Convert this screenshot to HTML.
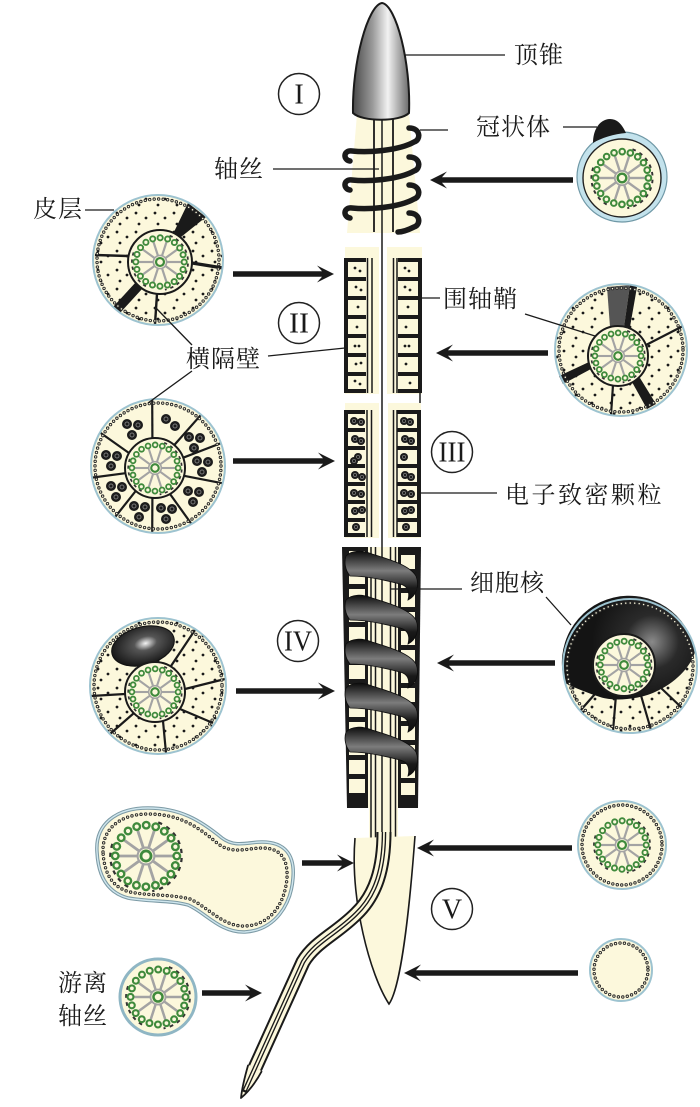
<!DOCTYPE html>
<html><head><meta charset="utf-8">
<style>
html,body{margin:0;padding:0;background:#fff;}
svg{display:block;}
text{font-family:"Liberation Serif","Noto Serif CJK SC",serif;fill:#1a1a1a;}
</style></head><body>
<svg width="700" height="1107" viewBox="0 0 700 1107" xmlns="http://www.w3.org/2000/svg" xmlns:xlink="http://www.w3.org/1999/xlink">
<defs>
 <pattern id="dots" width="19" height="19" patternUnits="userSpaceOnUse">
  <circle cx="3" cy="4" r="1.4" fill="#1a1a1a"/>
  <circle cx="13" cy="9" r="1.4" fill="#1a1a1a"/>
  <circle cx="6" cy="15" r="1.4" fill="#1a1a1a"/>
 </pattern>
 <linearGradient id="cone" x1="0" y1="0" x2="1" y2="0">
  <stop offset="0" stop-color="#4a4a4a"/>
  <stop offset="0.35" stop-color="#9a9a9a"/>
  <stop offset="0.62" stop-color="#f2f2f2"/>
  <stop offset="1" stop-color="#6a6a6a"/>
 </linearGradient>
 <linearGradient id="band" x1="0" y1="0" x2="0" y2="1">
  <stop offset="0" stop-color="#0d0d0d"/>
  <stop offset="0.4" stop-color="#7c7c7c"/>
  <stop offset="0.75" stop-color="#1a1a1a"/>
  <stop offset="1" stop-color="#0d0d0d"/>
 </linearGradient>
 <radialGradient id="nuc1" cx="0.55" cy="0.45" r="0.6">
  <stop offset="0" stop-color="#f4f4f4"/>
  <stop offset="0.3" stop-color="#555"/>
  <stop offset="1" stop-color="#111"/>
 </radialGradient>
 <radialGradient id="nuc2" gradientUnits="userSpaceOnUse" cx="652" cy="642" r="60">
  <stop offset="0" stop-color="#8a8a8a"/>
  <stop offset="0.45" stop-color="#2a2a2a"/>
  <stop offset="1" stop-color="#141414"/>
 </radialGradient>
 <g id="ax">
  <path d="M8.72,-23.96 A25.5,25.5 0 0 1 4.43,25.11 M-12.75,22.08 A25.5,25.5 0 0 1 -23.96,-8.72" fill="none" stroke="#333" stroke-width="1.6" stroke-dasharray="3 3.5"/>
  <g stroke="#a3a3a3" stroke-width="2">
   <line x1="6" y1="0" x2="19" y2="0"/>
   <line x1="4.85" y1="3.53" x2="15.37" y2="11.17"/>
   <line x1="1.85" y1="5.71" x2="5.87" y2="18.07"/>
   <line x1="-1.85" y1="5.71" x2="-5.87" y2="18.07"/>
   <line x1="-4.85" y1="3.53" x2="-15.37" y2="11.17"/>
   <line x1="-6" y1="0" x2="-19" y2="0"/>
   <line x1="-4.85" y1="-3.53" x2="-15.37" y2="-11.17"/>
   <line x1="-1.85" y1="-5.71" x2="-5.87" y2="-18.07"/>
   <line x1="1.85" y1="-5.71" x2="5.87" y2="-18.07"/>
   <line x1="4.85" y1="-3.53" x2="15.37" y2="-11.17"/>
  </g>
  <circle r="6" fill="none" stroke="#a3a3a3" stroke-width="1.5"/>
  <circle r="3.6" fill="#fcf8dc" stroke="#3f8a3c" stroke-width="2"/>
  <circle r="22" fill="none" stroke="#3f8a3c" stroke-width="6.4" stroke-linecap="round" stroke-dasharray="0 6.911"/>
  <circle r="22" fill="none" stroke="#fcf8dc" stroke-width="3" stroke-linecap="round" stroke-dasharray="0 6.911"/>
 </g>
 <g id="gr"><circle r="5" fill="#1c1c1c"/><circle r="2" fill="none" stroke="#777" stroke-width="1"/></g>
</defs>

<rect width="700" height="1107" fill="#fff"/>

<!-- Section I -->
<polygon points="357,114 409,114 420,233 347,233" fill="#fcf8dc"/>
<line x1="382" y1="115" x2="382" y2="547" stroke="#1a1a1a" stroke-width="1.5"/>
<line x1="374" y1="115" x2="374" y2="232" stroke="#1a1a1a" stroke-width="1.8"/>
<line x1="393" y1="115" x2="393" y2="232" stroke="#1a1a1a" stroke-width="1.8"/>
<g fill="none" stroke="#1a1a1a" stroke-width="5.5" stroke-linecap="round">
 <path d="M409,128 C421,128 421,140 414,142 C400,150 370,153 352,151 C343,150 343,160 350,161"/>
 <path d="M409,157 C421,157 421,169 414,171 C400,179 370,182 352,180 C343,179 343,189 350,190"/>
 <path d="M409,185 C421,185 421,197 414,199 C400,207 370,210 352,208 C343,207 343,217 350,218"/>
 <path d="M409,213 C421,213 421,225 414,227 C408,230 402,232 398,232"/>
</g>
<path d="M353,113 C352,62 368,5 382,3 C396,5 411,62 409,113 C400,122 362,122 353,113 Z" fill="url(#cone)" stroke="#1a1a1a" stroke-width="2"/>

<!-- Section II -->
<rect x="345" y="247" width="34" height="147" fill="#fcf8dc"/>
<rect x="387" y="247" width="35" height="147" fill="#fcf8dc"/>
<g fill="#1a1a1a">
 <rect x="344" y="258" width="4" height="135"/>
 <rect x="344" y="258" width="22" height="4"/><rect x="344" y="277" width="22" height="4"/>
 <rect x="344" y="296" width="22" height="4"/><rect x="344" y="315" width="22" height="4"/>
 <rect x="344" y="334" width="22" height="4"/><rect x="344" y="353" width="22" height="4"/>
 <rect x="344" y="372" width="22" height="4"/><rect x="344" y="389" width="22" height="4"/>
 <rect x="418" y="258" width="4" height="135"/>
 <rect x="398" y="258" width="24" height="4"/><rect x="398" y="277" width="24" height="4"/>
 <rect x="398" y="296" width="24" height="4"/><rect x="398" y="315" width="24" height="4"/>
 <rect x="398" y="334" width="24" height="4"/><rect x="398" y="353" width="24" height="4"/>
 <rect x="398" y="372" width="24" height="4"/><rect x="398" y="389" width="24" height="4"/>
 <circle cx="355" cy="268" r="1.4"/><circle cx="360" cy="271" r="1.4"/>
 <circle cx="356" cy="287" r="1.4"/><circle cx="361" cy="290" r="1.4"/>
 <circle cx="358" cy="307" r="1.4"/><circle cx="357" cy="327" r="1.4"/>
 <circle cx="355" cy="346" r="1.4"/><circle cx="359" cy="346" r="1.4"/>
 <circle cx="356" cy="364" r="1.4"/><circle cx="361" cy="363" r="1.4"/>
 <circle cx="355" cy="381" r="1.4"/><circle cx="360" cy="384" r="1.4"/>
 <circle cx="405" cy="268" r="1.4"/><circle cx="409" cy="271" r="1.4"/>
 <circle cx="405" cy="287" r="1.4"/><circle cx="410" cy="290" r="1.4"/>
 <circle cx="408" cy="307" r="1.4"/><circle cx="406" cy="327" r="1.4"/>
 <circle cx="405" cy="346" r="1.4"/><circle cx="409" cy="346" r="1.4"/>
 <circle cx="406" cy="364" r="1.4"/><circle cx="410" cy="383" r="1.4"/>
</g>
<g stroke="#1a1a1a" stroke-width="1.5">
 <line x1="367.5" y1="258" x2="367.5" y2="393"/><line x1="372" y1="258" x2="372" y2="393"/>
 <line x1="393.5" y1="258" x2="393.5" y2="393"/><line x1="397" y1="258" x2="397" y2="393"/>
 <line x1="420" y1="393" x2="420" y2="410"/>
</g>

<!-- Section III -->
<rect x="345" y="403" width="34" height="135" fill="#fcf8dc"/>
<rect x="388" y="403" width="33" height="135" fill="#fcf8dc"/>
<g fill="#1a1a1a">
 <rect x="344" y="410" width="4" height="127"/>
 <rect x="344" y="410" width="21" height="4"/><rect x="344" y="428" width="21" height="4"/>
 <rect x="344" y="446" width="21" height="4"/><rect x="344" y="464" width="21" height="4"/>
 <rect x="344" y="482" width="21" height="4"/><rect x="344" y="500" width="21" height="4"/>
 <rect x="344" y="518" width="21" height="4"/><rect x="344" y="533" width="21" height="4"/>
 <rect x="417" y="410" width="4" height="127"/>
 <rect x="397" y="410" width="24" height="4"/><rect x="397" y="428" width="24" height="4"/>
 <rect x="397" y="446" width="24" height="4"/><rect x="397" y="464" width="24" height="4"/>
 <rect x="397" y="482" width="24" height="4"/><rect x="397" y="500" width="24" height="4"/>
 <rect x="397" y="518" width="24" height="4"/><rect x="397" y="533" width="24" height="4"/>
</g>
<g stroke="#1a1a1a" stroke-width="1.5">
 <line x1="367" y1="410" x2="367" y2="537"/><line x1="371.5" y1="410" x2="371.5" y2="537"/>
 <line x1="393.5" y1="410" x2="393.5" y2="537"/><line x1="397" y1="410" x2="397" y2="537"/>
</g>
<g>
 <use xlink:href="#gr" transform="translate(354,421) scale(0.8)"/><use xlink:href="#gr" transform="translate(361,422) scale(0.8)"/>
 <use xlink:href="#gr" transform="translate(355,439) scale(0.8)"/><use xlink:href="#gr" transform="translate(361,441) scale(0.8)"/>
 <use xlink:href="#gr" transform="translate(358,457) scale(0.8)"/><use xlink:href="#gr" transform="translate(354,461) scale(0.8)"/>
 <use xlink:href="#gr" transform="translate(355,475) scale(0.8)"/><use xlink:href="#gr" transform="translate(362,477) scale(0.8)"/>
 <use xlink:href="#gr" transform="translate(354,493) scale(0.8)"/><use xlink:href="#gr" transform="translate(361,494) scale(0.8)"/>
 <use xlink:href="#gr" transform="translate(355,511) scale(0.8)"/><use xlink:href="#gr" transform="translate(362,510) scale(0.8)"/>
 <use xlink:href="#gr" transform="translate(356,527) scale(0.8)"/>
 <use xlink:href="#gr" transform="translate(404,421) scale(0.8)"/><use xlink:href="#gr" transform="translate(410,422) scale(0.8)"/>
 <use xlink:href="#gr" transform="translate(405,439) scale(0.8)"/><use xlink:href="#gr" transform="translate(411,441) scale(0.8)"/>
 <use xlink:href="#gr" transform="translate(404,457) scale(0.8)"/>
 <use xlink:href="#gr" transform="translate(405,475) scale(0.8)"/><use xlink:href="#gr" transform="translate(411,477) scale(0.8)"/>
 <use xlink:href="#gr" transform="translate(404,493) scale(0.8)"/><use xlink:href="#gr" transform="translate(411,494) scale(0.8)"/>
 <use xlink:href="#gr" transform="translate(405,511) scale(0.8)"/><use xlink:href="#gr" transform="translate(411,510) scale(0.8)"/>
 <use xlink:href="#gr" transform="translate(406,527) scale(0.8)"/>
</g>

<!-- Section IV -->
<polygon points="342,547 421,547 418,808 347,808" fill="#1a1a1a"/>
<rect x="368" y="547" width="30" height="261" fill="#fcf8dc"/>
<g fill="#fcf8dc">
 <rect x="349" y="551" width="16" height="14"/><rect x="349" y="570" width="16" height="14"/>
 <rect x="349" y="589" width="16" height="14"/><rect x="349" y="608" width="16" height="14"/>
 <rect x="349" y="627" width="16" height="14"/><rect x="349" y="646" width="16" height="14"/>
 <rect x="349" y="665" width="16" height="14"/><rect x="349" y="684" width="16" height="14"/>
 <rect x="349" y="703" width="16" height="14"/><rect x="349" y="722" width="16" height="14"/>
 <rect x="349" y="741" width="16" height="14"/><rect x="349" y="760" width="16" height="14"/>
 <rect x="349" y="779" width="16" height="14"/>
 <rect x="401" y="555" width="14" height="14"/><rect x="401" y="574" width="14" height="14"/>
 <rect x="401" y="593" width="14" height="14"/><rect x="401" y="612" width="14" height="14"/>
 <rect x="401" y="631" width="14" height="14"/><rect x="401" y="650" width="14" height="14"/>
 <rect x="401" y="669" width="14" height="14"/><rect x="401" y="688" width="14" height="14"/>
 <rect x="401" y="707" width="14" height="14"/><rect x="401" y="726" width="14" height="14"/>
 <rect x="401" y="745" width="14" height="14"/><rect x="401" y="764" width="14" height="14"/>
 <rect x="401" y="783" width="14" height="12"/>
 <rect x="369" y="808" width="29" height="34"/>
</g>
<g stroke="#1a1a1a" stroke-width="1.5">
 <line x1="371" y1="547" x2="371" y2="842"/><line x1="375.5" y1="547" x2="375.5" y2="842"/>
 <line x1="382" y1="547" x2="382" y2="842"/>
 <line x1="390.5" y1="547" x2="390.5" y2="842"/><line x1="395.5" y1="547" x2="395.5" y2="842"/>
</g>
<g fill="url(#band)" stroke="#0d0d0d" stroke-width="0.8">
 <path d="M346,556 C352,550 362,550 372,554 C392,560 410,566 416,576 C420,586 416,596 408,600 C410,592 408,586 400,584 C385,580 365,576 350,576 C345,570 344,562 346,556 Z"/>
 <path d="M346,600 C352,594 362,594 372,598 C392,604 410,610 416,620 C420,630 416,640 408,644 C410,636 408,630 400,628 C385,624 365,620 350,620 C345,614 344,606 346,600 Z"/>
 <path d="M346,644 C352,638 362,638 372,642 C392,648 410,654 416,664 C420,674 416,684 408,688 C410,680 408,674 400,672 C385,668 365,664 350,664 C345,658 344,650 346,644 Z"/>
 <path d="M346,688 C352,682 362,682 372,686 C392,692 410,698 416,708 C420,718 416,728 408,732 C410,724 408,718 400,716 C385,712 365,708 350,708 C345,702 344,694 346,688 Z"/>
 <path d="M346,732 C352,726 362,726 372,730 C392,736 410,742 416,752 C420,762 416,772 408,776 C410,768 408,762 400,760 C385,756 365,752 350,752 C345,746 344,738 346,732 Z"/>
</g>

<!-- Section V cone & free tail -->
<path d="M355,838 C350,900 370,975 389,1004 C399,990 408,930 415,836 Z" fill="#fcf8dc"/>
<path d="M355,838 C350,900 370,975 389,1004 C399,990 408,930 415,836" fill="none" stroke="#1a1a1a" stroke-width="1.6"/>
<g fill="none" stroke-linejoin="round">
 <path d="M384,832 C384,868 376,895 356,914 C336,934 315,942 303,962 L255,1068" stroke="#1a1a1a" stroke-width="15"/>
 <path d="M384,832 C384,868 376,895 356,914 C336,934 315,942 303,962 L255,1068" stroke="#fcf8dc" stroke-width="11"/>
</g>
<!-- tapered tip -->
<path d="M248.2,1064.9 L261.8,1071.1 C256,1082 248,1092 241,1098 C242,1088 245,1076 248.2,1064.9 Z" fill="#fcf8dc"/>
<path d="M248.2,1064.9 C245,1076 242,1088 241,1098 C248,1092 256,1082 261.8,1071.1" fill="none" stroke="#1a1a1a" stroke-width="1.8" stroke-linejoin="round"/>
<g fill="none">
 <path d="M384,832 C384,868 376,895 356,914 C336,934 315,942 303,962 L255,1068 L244,1092" stroke="#1a1a1a" stroke-width="4.5"/>
 <path d="M384,832 C384,868 376,895 356,914 C336,934 315,942 303,962 L255,1068 L245,1090" stroke="#fcf8dc" stroke-width="1.8"/>
</g>

<!-- Circle 1 (皮层) -->
<circle cx="158" cy="260" r="65" fill="#fcf8dc"/>
<circle cx="158" cy="260" r="65" fill="url(#dots)"/>
<g fill="#1a1a1a">
 <polygon points="173,234 181,237 206,217 188,203"/>
 <polygon points="136,282 142,289 120,313 113,307"/>
</g>
<g stroke="#1a1a1a">
 <line x1="128" y1="256" x2="95" y2="255" stroke-width="2.4"/>
 <line x1="192" y1="263" x2="223" y2="268" stroke-width="3.4"/>
 <line x1="157" y1="294" x2="155" y2="324" stroke-width="2.4"/>
</g>
<circle cx="158" cy="260" r="61" fill="none" stroke="#2a2a2a" stroke-width="3.4" stroke-linecap="round" stroke-dasharray="0 4.5"/>
<circle cx="158" cy="260" r="61" fill="none" stroke="#fcf8dc" stroke-width="1.5" stroke-linecap="round" stroke-dasharray="0 4.5"/>
<circle cx="158" cy="260" r="65" fill="none" stroke="#9dc3d0" stroke-width="2"/>
<circle cx="160" cy="262" r="32" fill="#fcf8dc" stroke="#1a1a1a" stroke-width="2"/>
<use xlink:href="#ax" transform="translate(160,262) scale(1.1)"/>

<!-- Circle III-left (granules) -->
<circle cx="158" cy="466" r="67" fill="#fcf8dc"/>
<g stroke="#1a1a1a" stroke-width="2.2">
 <line x1="152.4" y1="438.1" x2="152.2" y2="399.2"/>
 <line x1="174.3" y1="445" x2="201.1" y2="414.7"/>
 <line x1="183.2" y1="457.7" x2="221" y2="443.1"/>
 <line x1="184" y1="475.8" x2="222.7" y2="483.3"/>
 <line x1="170" y1="494" x2="191.5" y2="524"/>
 <line x1="152.4" y1="497.9" x2="152.2" y2="532.7"/>
 <line x1="135.7" y1="491" x2="114.9" y2="517.3"/>
 <line x1="125.5" y1="473.2" x2="92" y2="477.6"/>
 <line x1="129" y1="453" x2="100" y2="432.5"/>
</g>
<g>
 <use xlink:href="#gr" x="127" y="424"/><use xlink:href="#gr" x="138" y="425"/><use xlink:href="#gr" x="132" y="435"/>
 <use xlink:href="#gr" x="166" y="419"/><use xlink:href="#gr" x="175" y="426"/>
 <use xlink:href="#gr" x="189" y="437"/><use xlink:href="#gr" x="200" y="438"/><use xlink:href="#gr" x="194" y="448"/>
 <use xlink:href="#gr" x="197" y="461"/><use xlink:href="#gr" x="208" y="462"/><use xlink:href="#gr" x="202" y="472"/>
 <use xlink:href="#gr" x="188" y="491"/><use xlink:href="#gr" x="199" y="492"/><use xlink:href="#gr" x="193" y="502"/>
 <use xlink:href="#gr" x="161" y="508"/><use xlink:href="#gr" x="172" y="509"/><use xlink:href="#gr" x="166" y="519"/>
 <use xlink:href="#gr" x="134" y="506"/><use xlink:href="#gr" x="145" y="507"/><use xlink:href="#gr" x="139" y="517"/>
 <use xlink:href="#gr" x="111" y="486"/><use xlink:href="#gr" x="122" y="487"/><use xlink:href="#gr" x="116" y="497"/>
 <use xlink:href="#gr" x="106" y="455"/><use xlink:href="#gr" x="117" y="456"/><use xlink:href="#gr" x="111" y="466"/>
</g>
<circle cx="158" cy="466" r="63" fill="none" stroke="#2a2a2a" stroke-width="3.4" stroke-linecap="round" stroke-dasharray="0 4.5"/>
<circle cx="158" cy="466" r="63" fill="none" stroke="#fcf8dc" stroke-width="1.5" stroke-linecap="round" stroke-dasharray="0 4.5"/>
<circle cx="158" cy="466" r="67" fill="none" stroke="#9dc3d0" stroke-width="2"/>
<circle cx="155" cy="468" r="30" fill="#fcf8dc" stroke="#1a1a1a" stroke-width="2"/>
<use xlink:href="#ax" transform="translate(155,468) scale(1.05)"/>

<!-- Circle IV-left (nucleus) -->
<circle cx="158" cy="686" r="68" fill="#fcf8dc"/>
<circle cx="158" cy="686" r="68" fill="url(#dots)"/>
<g stroke="#1a1a1a" stroke-width="2.2">
 <line x1="171" y1="666" x2="195" y2="630"/>
 <line x1="185" y1="689" x2="225" y2="679"/>
 <line x1="180" y1="709" x2="213" y2="723"/>
 <line x1="163" y1="721" x2="166" y2="753"/>
 <line x1="134" y1="713" x2="110" y2="734"/>
 <line x1="125" y1="694" x2="91" y2="696"/>
</g>
<circle cx="158" cy="686" r="64" fill="none" stroke="#2a2a2a" stroke-width="3.4" stroke-linecap="round" stroke-dasharray="0 4.5"/>
<circle cx="158" cy="686" r="64" fill="none" stroke="#fcf8dc" stroke-width="1.5" stroke-linecap="round" stroke-dasharray="0 4.5"/>
<circle cx="158" cy="686" r="68" fill="none" stroke="#9dc3d0" stroke-width="2"/>
<ellipse cx="143" cy="646" rx="32" ry="19" transform="rotate(-15 143 646)" fill="url(#nuc1)" stroke="#111" stroke-width="1"/>
<circle cx="155" cy="692" r="30" fill="#fcf8dc" stroke="#1a1a1a" stroke-width="2"/>
<use xlink:href="#ax" transform="translate(155,692) scale(1.05)"/>

<!-- Circle R1 (冠状体) -->
<circle cx="622" cy="177" r="45" fill="#c3e2ec" stroke="#6f98a6" stroke-width="1.2"/>
<circle cx="622" cy="178" r="39" fill="#fcf8dc" stroke="#222" stroke-width="1.4"/>
<use xlink:href="#ax" transform="translate(622,178) scale(1.2)"/>
<path d="M593,143 C593,128 601,119 610,119 C619,119 623,127 626,133 C614,134 601,138 593,143 Z" fill="#1a1a1a"/>

<!-- Circle R2 (围轴鞘) -->
<circle cx="621" cy="350" r="66" fill="#fcf8dc"/>
<circle cx="621" cy="350" r="66" fill="url(#dots)"/>
<polygon points="610,327 624,327 630,285 607,287" fill="#555"/>
<g fill="#1a1a1a">
 <polygon points="624,327 630,327 637,287 630,285"/>
 <polygon points="589,362 591,369 563,384 559,376"/>
 <polygon points="632,382 640,378 656,404 647,409"/>
</g>
<g stroke="#1a1a1a" stroke-width="2.2">
 <line x1="646" y1="345" x2="683" y2="326"/>
 <line x1="613" y1="385" x2="611" y2="415"/>
</g>
<circle cx="621" cy="350" r="62" fill="none" stroke="#2a2a2a" stroke-width="3.4" stroke-linecap="round" stroke-dasharray="0 4.5"/>
<circle cx="621" cy="350" r="62" fill="none" stroke="#fcf8dc" stroke-width="1.5" stroke-linecap="round" stroke-dasharray="0 4.5"/>
<circle cx="621" cy="350" r="66" fill="none" stroke="#9dc3d0" stroke-width="2"/>
<circle cx="618" cy="356" r="30" fill="#fcf8dc" stroke="#1a1a1a" stroke-width="2"/>
<use xlink:href="#ax" transform="translate(618,356) scale(1.05)"/>

<!-- Circle R3 (细胞核) -->
<circle cx="630" cy="666" r="67" fill="#fcf8dc"/>
<circle cx="630" cy="666" r="67" fill="url(#dots)"/>
<g stroke="#1a1a1a" stroke-width="2.2">
 <line x1="602" y1="686" x2="580" y2="711"/>
 <line x1="616" y1="695" x2="613" y2="731"/>
 <line x1="640" y1="692" x2="651" y2="730"/>
 <line x1="660" y1="687" x2="682" y2="708"/>
</g>
<path d="M565,683 A67,67 0 1 1 695,652 C690,668 675,683 655,692 C640,699 615,702 600,697 C588,693 575,688 565,683 Z" fill="url(#nuc2)"/>
<circle cx="630" cy="666" r="63" fill="none" stroke="#2a2a2a" stroke-width="3.4" stroke-linecap="round" stroke-dasharray="0 4.5"/>
<circle cx="630" cy="666" r="63" fill="none" stroke="#fcf8dc" stroke-width="1.5" stroke-linecap="round" stroke-dasharray="0 4.5"/>
<circle cx="630" cy="666" r="67" fill="none" stroke="#9dc3d0" stroke-width="2"/>
<circle cx="624" cy="665" r="31" fill="#fcf8dc" stroke="#1a1a1a" stroke-width="2"/>
<use xlink:href="#ax" transform="translate(624,665) scale(1.08)"/>

<!-- Circle R4 -->
<circle cx="622" cy="845" r="44" fill="#fcf8dc"/>
<circle cx="622" cy="845" r="40" fill="none" stroke="#2a2a2a" stroke-width="3.4" stroke-linecap="round" stroke-dasharray="0 4.5"/>
<circle cx="622" cy="845" r="40" fill="none" stroke="#fcf8dc" stroke-width="1.5" stroke-linecap="round" stroke-dasharray="0 4.5"/>
<circle cx="622" cy="845" r="44" fill="none" stroke="#9dc3d0" stroke-width="2"/>
<use xlink:href="#ax" transform="translate(622,845) scale(1.1)"/>

<!-- Circle R5 -->
<circle cx="621" cy="970" r="31" fill="#fcf8dc"/>
<circle cx="621" cy="970" r="27" fill="none" stroke="#2a2a2a" stroke-width="3.4" stroke-linecap="round" stroke-dasharray="0 4.5"/>
<circle cx="621" cy="970" r="27" fill="none" stroke="#fcf8dc" stroke-width="1.5" stroke-linecap="round" stroke-dasharray="0 4.5"/>
<circle cx="621" cy="970" r="31" fill="none" stroke="#9dc3d0" stroke-width="2"/>

<!-- Peanut -->
<path d="M97,852 C95,825 115,808 148,808 C180,808 200,820 222,838 C235,848 248,842 262,842 C285,842 295,855 293,878 C291,905 275,930 245,932 C220,933 205,912 188,905 C170,900 150,902 128,898 C105,892 98,872 97,852 Z" fill="#fcf8dc" stroke="#7c9aa5" stroke-width="3.5"/>
<path d="M97,852 C95,825 115,808 148,808 C180,808 200,820 222,838 C235,848 248,842 262,842 C285,842 295,855 293,878 C291,905 275,930 245,932 C220,933 205,912 188,905 C170,900 150,902 128,898 C105,892 98,872 97,852 Z" fill="none" stroke="#cfe6ee" stroke-width="1.4"/>
<path d="M103,852 C102,830 119,814 148,814 C178,814 196,825 217,843 C232,855 247,848 262,848 C280,848 288,858 287,878 C285,902 272,925 245,926 C223,927 208,907 190,899 C170,894 150,896 130,892 C110,887 104,870 103,852 Z" fill="none" stroke="#2a2a2a" stroke-width="3.4" stroke-linecap="round" stroke-dasharray="0 4.6"/>
<path d="M103,852 C102,830 119,814 148,814 C178,814 196,825 217,843 C232,855 247,848 262,848 C280,848 288,858 287,878 C285,902 272,925 245,926 C223,927 208,907 190,899 C170,894 150,896 130,892 C110,887 104,870 103,852 Z" fill="none" stroke="#fcf8dc" stroke-width="1.5" stroke-linecap="round" stroke-dasharray="0 4.6"/>
<use xlink:href="#ax" transform="translate(146,856) scale(1.4)"/>

<!-- Free axoneme circle -->
<circle cx="158" cy="997" r="38" fill="#fcf8dc" stroke="#8fb6c4" stroke-width="3"/>
<use xlink:href="#ax" transform="translate(158,997) scale(1.25)"/>

<!-- Arrows -->
<g fill="#1a1a1a">
 <path d="M233,271.2 L322,271.2 L317,265.5 L334,274 L317,282.5 L322,276.8 L233,276.8 Z"/>
 <path d="M573,177.2 L442,177.2 L447,171.5 L430,180 L447,188.5 L442,182.8 L573,182.8 Z"/>
 <path d="M548,350.2 L448,350.2 L453,344.5 L436,353 L453,361.5 L448,355.8 L548,355.8 Z"/>
 <path d="M233,458.2 L323,458.2 L318,452.5 L335,461 L318,469.5 L323,463.8 L233,463.8 Z"/>
 <path d="M236,688.2 L323,688.2 L318,682.5 L335,691 L318,699.5 L323,693.8 L236,693.8 Z"/>
 <path d="M555,660.2 L449,660.2 L454,654.5 L437,663 L454,671.5 L449,665.8 L555,665.8 Z"/>
 <path d="M302,860.2 L342,860.2 L337,854.5 L354,863 L337,871.5 L342,865.8 L302,865.8 Z"/>
 <path d="M572,845.2 L429,845.2 L434,839.5 L417,848 L434,856.5 L429,850.8 L572,850.8 Z"/>
 <path d="M578,970.2 L416,970.2 L421,964.5 L404,973 L421,981.5 L416,975.8 L578,975.8 Z"/>
 <path d="M202,990.2 L250,990.2 L245,984.5 L262,993 L245,1001.5 L250,995.8 L202,995.8 Z"/>
</g>

<!-- Label lines -->
<g stroke="#1a1a1a" stroke-width="1.3">
 <line x1="405" y1="55" x2="505" y2="55"/>
 <line x1="420" y1="130" x2="448" y2="130"/>
 <line x1="563" y1="127" x2="597" y2="127"/>
 <line x1="273" y1="169" x2="379" y2="169"/>
 <line x1="85" y1="210" x2="114" y2="210"/>
 <line x1="398" y1="298" x2="440" y2="298"/>
 <line x1="525" y1="314" x2="595" y2="336"/>
 <line x1="268" y1="356" x2="345" y2="348"/>
 <line x1="156" y1="308" x2="192" y2="345"/>
 <line x1="192" y1="371" x2="148" y2="403"/>
 <line x1="420" y1="493" x2="497" y2="493"/>
 <line x1="390" y1="589" x2="462" y2="589"/>
 <line x1="546" y1="597" x2="571" y2="625"/>
</g>

<!-- Text labels -->
<g font-size="24" dominant-baseline="central">
 <text x="514" y="56" letter-spacing="1">顶锥</text>
 <text x="476" y="128" letter-spacing="1">冠状体</text>
 <text x="214" y="170" letter-spacing="1">轴丝</text>
 <text x="33" y="210" letter-spacing="1">皮层</text>
 <text x="443" y="300" letter-spacing="1">围轴鞘</text>
 <text x="186" y="360" letter-spacing="1">横隔壁</text>
 <text x="505" y="496" letter-spacing="2.5">电子致密颗粒</text>
 <text x="470" y="584" letter-spacing="1">细胞核</text>
 <text x="58" y="984" letter-spacing="1">游离</text>
 <text x="58" y="1017" letter-spacing="1">轴丝</text>
</g>

<!-- Roman numerals -->
<g fill="none" stroke="#222" stroke-width="1.5">
 <circle cx="299" cy="94" r="20.5"/>
 <circle cx="299" cy="323" r="20.5"/>
 <circle cx="452" cy="452" r="20.5"/>
 <circle cx="298" cy="641" r="20.5"/>
 <circle cx="452" cy="909" r="20.5"/>
</g>
<g font-size="28" text-anchor="middle" dominant-baseline="central">
 <text x="299" y="95">I</text>
 <text x="299" y="324" textLength="20" lengthAdjust="spacingAndGlyphs">II</text>
 <text x="452" y="453" textLength="27" lengthAdjust="spacingAndGlyphs">III</text>
 <text x="298" y="642" textLength="28" lengthAdjust="spacingAndGlyphs">IV</text>
 <text x="452" y="910">V</text>
</g>
</svg>
</body></html>
